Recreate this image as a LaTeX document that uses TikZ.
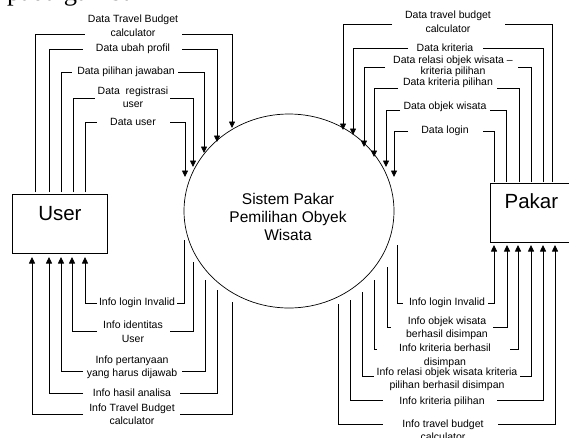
\documentclass[tikz,border=0pt]{standalone}
\usepackage{fontspec}
\setmainfont{Liberation Sans}
\newfontfamily\headserif{Liberation Serif}
\usetikzlibrary{arrows.meta,shapes.geometric}

\tikzset{
  flowline/.style={line width=0.8pt, draw=black},
  flowarrow/.style={flowline, -{Triangle[length=6.5pt,width=6pt]}},
  flowlbl/.style={inner sep=0pt, align=center, font=\fontsize{10.5}{13.5}\selectfont},
  tightlbl/.style={font=\fontsize{10.5}{11.5}\selectfont},
  entity/.style={draw, line width=0.8pt, inner xsep=0pt, text height=15pt,
    font=\fontsize{20.5}{24}\selectfont, anchor=north west},
  process/.style={draw, ellipse, line width=0.7pt, minimum width=210pt,
    minimum height=194pt, inner sep=0pt},
}

% One data flow: vertical leg from the source, horizontal run broken
% around its label, then a bent arrow into the target.
% #1 label options, #2 name, #3 source point, #4 run level (y),
% #5 arrow tip, #6 gap end on the source side, #7 gap end on the tip side,
% #8 label centre, #9 label text
\newcommand\dfdflow[9][]{%
  \coordinate (#2-from) at (#3);
  \coordinate (#2-to) at (#5);
  \coordinate (#2-gs) at (#6,#4);
  \coordinate (#2-gt) at (#7,#4);
  \draw[flowline] (#2-from) |- (#2-gs);
  \draw[flowarrow] (#2-gt) -| (#2-to);
  \node[flowlbl,#1] (#2) at (#8) {#9};
}

\begin{document}
\begin{tikzpicture}[x=1pt,y=-1pt]
\useasboundingbox (0,0) rectangle (569,437);

% caption line from the page above
\node[anchor=base west, inner sep=0pt, font=\headserif\fontsize{26.5}{30}\selectfont]
  (heading) at (7,0.5) {pada gambar};

% external entities and the process
\node[entity, minimum width=95pt, inner ysep=11pt, text depth=22pt]
  (user) at (12,194) {User};
\node[entity, minimum width=82pt, inner ysep=10pt, text depth=24pt]
  (pakar) at (490,183) {Pakar};
\node[process] (sys) at (289,211) {};
\node[align=center, inner sep=0pt, font=\fontsize{15.5}{18}\selectfont]
  (systitle) at (288,216.5) {Sistem Pakar\\Pemilihan Obyek\\Wisata};

% User -> system
\dfdflow{t1}{35,192}{34}{232,128}{85}{182}{133,25.5}{Data Travel Budget\\calculator}
\dfdflow{t2}{49,192}{49}{217,142}{83}{182}{133,49}{Data ubah profil}
\dfdflow{t3}{61,192}{72}{204,153}{72}{178}{126,72}{Data pilihan jawaban}
\dfdflow{t4}{73,192}{98}{193,167}{95}{170}{133,97}{Data \ registrasi\\user}
\dfdflow{t5}{85,192}{122}{185,177}{97}{170}{133,122}{Data user}

% system -> User
\dfdflow{b1}{184,240}{303}{85,257}{177}{97}{137,303}{Info login Invalid}
\dfdflow{b2}{193,262}{331}{72,257}{170}{97}{133,331.5}{Info identitas\\User}
\dfdflow{b3}{205,280}{371}{61,257}{182}{83}{132,367.5}{Info pertanyaan\\yang harus dijawab}
\dfdflow{b4}{217,290}{393}{49,257}{180}{83}{132,393}{Info hasil analisa}
\dfdflow{b5}{232,302}{414}{32,257}{180}{83}{132,414}{Info Travel Budget\\calculator}

% Pakar -> system
\dfdflow{r1}{552,182}{24}{343,130}{505}{392}{448,21.5}{Data travel budget\\calculator}
\dfdflow{r2}{543,182}{48}{353,135}{483}{408}{445,48}{Data kriteria}
\dfdflow[tightlbl]{r3}{531,182}{67}{364,147}{518}{385}{453,66.5}{Data relasi objek wisata –\\kriteria pilihan}
\dfdflow{r4}{519,182}{88}{374,157}{497}{398}{448,82.5}{Data kriteria pilihan}
\dfdflow{r5}{506,182}{110}{386,167}{490}{400}{445,107}{Data objek wisata}
\dfdflow{r6}{494,182}{131}{394,177}{483}{408}{445,131}{Data login}

% system -> Pakar
\dfdflow{p1}{397,245}{303}{494,245}{403}{488}{447,303}{Info login Invalid}
\dfdflow{p2}{387,267}{327}{507,245}{391}{493}{447,328.5}{Info objek wisata\\berhasil disimpan}
\dfdflow{p3}{374,280}{349}{518,245}{377}{510}{445,356}{Info kriteria berhasil\\disimpan}
\dfdflow{p4}{362,292}{376}{531,245}{374}{520}{447,379.5}{Info relasi objek wisata kriteria\\pilihan berhasil disimpan}
\dfdflow{p5}{350,300}{400}{543,245}{383}{497}{442,402}{Info kriteria pilihan}
\dfdflow{p6}{338,304}{424}{555,245}{383}{498}{443,430}{Info travel budget\\calculator}
\end{tikzpicture}
\end{document}
